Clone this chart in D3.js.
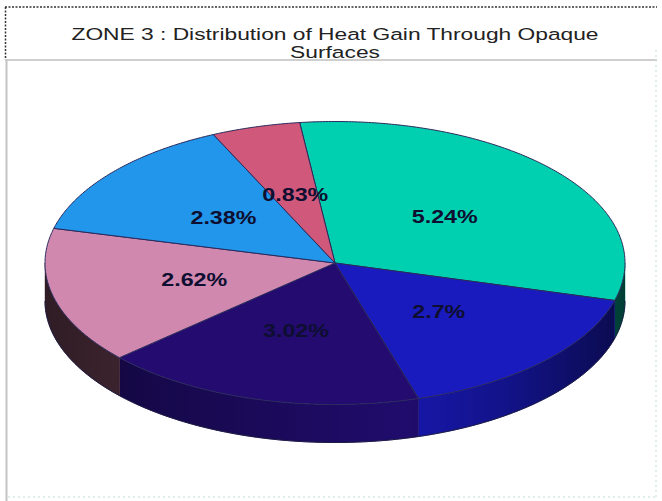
<!DOCTYPE html>
<html>
<head>
<meta charset="utf-8">
<script src="https://cdn.jsdelivr.net/npm/d3@7"></script>
<style>
  html, body { margin: 0; padding: 0; background: #ffffff; }
  svg { display: block; }
</style>
</head>
<body>
<svg id="chart" width="662" height="501"></svg>
<script>
// ---- data ----
const titleLines = ["ZONE 3 : Distribution of Heat Gain Through Opaque", "Surfaces"];
const values = [5.24, 2.7, 3.02, 2.62, 2.38, 0.83];
const labels = ["5.24%", "2.7%", "3.02%", "2.62%", "2.38%", "0.83%"];
const topColors = ["#00D0B0", "#1A1BBE", "#230B70", "#D088AE", "#2196EA", "#D0587A"];
const sideColors = ["#008a74", "#1717aa", "#200c6c", "#5e3848", "#1a6eb0", "#8a3850"];

// ---- layout ----
const W = 662, H = 501;
const cx = 335, cy = 263, rx = 290, ry = 141.5, depth = 38;
const svg = d3.select("#chart");
const defs = svg.append("defs");

// frame
svg.append("line").attr("x1", 5).attr("y1", 7).attr("x2", 657).attr("y2", 7)
  .attr("stroke", "#333").attr("stroke-width", 1.5).attr("stroke-dasharray", "2,1.5");
svg.append("line").attr("x1", 5.5).attr("y1", 7).attr("x2", 5.5).attr("y2", 60)
  .attr("stroke", "#333").attr("stroke-width", 1.5).attr("stroke-dasharray", "2,1.5");
svg.append("line").attr("x1", 5).attr("y1", 60).attr("x2", 657).attr("y2", 60)
  .attr("stroke", "#cfcfcf").attr("stroke-width", 2);
svg.append("line").attr("x1", 6.5).attr("y1", 60).attr("x2", 6.5).attr("y2", 501)
  .attr("stroke", "#c4c4c4").attr("stroke-width", 2);
svg.append("line").attr("x1", 656).attr("y1", 50).attr("x2", 656).attr("y2", 497)
  .attr("stroke", "#d8ece0").attr("stroke-width", 1.5).attr("stroke-dasharray", "2,3");
svg.append("line").attr("x1", 8).attr("y1", 497).attr("x2", 656).attr("y2", 497)
  .attr("stroke", "#d8ece0").attr("stroke-width", 1.5).attr("stroke-dasharray", "2,3");

// title
const titleY = [39.5, 58];
titleLines.forEach((t, i) => {
  svg.append("text")
    .attr("transform", `translate(${cx},${titleY[i]}) scale(1.34,1)`)
    .attr("text-anchor", "middle")
    .attr("font-family", "Liberation Sans, Arial, sans-serif")
    .attr("font-size", 17)
    .attr("fill", "#222")
    .text(t);
});

// pie
const pie = d3.pie().sort(null).value(d => d)
  .startAngle(-7 * Math.PI / 180).endAngle(2 * Math.PI - 7 * Math.PI / 180);
const arcs = pie(values);

const xs = d3.scaleLinear().domain([-1, 1]).range([cx - rx, cx + rx]);
const ys = d3.scaleLinear().domain([-1, 1]).range([cy - ry, cy + ry]);
const pt = (a, f = 1, dy = 0) => [xs(f * Math.sin(a)), ys(-f * Math.cos(a)) + dy];
const line = d3.line();

function arcPoints(a0, a1, dy) {
  const n = Math.max(2, Math.ceil((a1 - a0) / 0.01));
  return d3.range(n + 1).map(i => pt(a0 + (a1 - a0) * i / n, 1, dy));
}

// side shading gradient
const grad = defs.append("linearGradient").attr("id", "shade")
  .attr("gradientUnits", "userSpaceOnUse")
  .attr("x1", cx - rx).attr("x2", cx + rx).attr("y1", 0).attr("y2", 0);
[[0, 0.5], [0.2, 0.3], [0.62, 0.0], [0.8, 0.2], [1, 0.55]].forEach(([o, a]) => {
  grad.append("stop").attr("offset", o).attr("stop-color", "#000").attr("stop-opacity", a);
});

const sides = svg.append("g");
const front0 = Math.PI / 2, front1 = 3 * Math.PI / 2;
arcs.forEach((d, i) => {
  const a0 = Math.max(d.startAngle, front0), a1 = Math.min(d.endAngle, front1);
  if (a1 <= a0) return;
  const topPts = arcPoints(a0, a1, 0);
  const botPts = arcPoints(a0, a1, depth).reverse();
  const pts = topPts.concat(botPts);
  sides.append("path").attr("d", line(pts) + "Z")
    .attr("fill", sideColors[i]).attr("stroke", sideColors[i]).attr("stroke-width", 0.5);
  sides.append("path").attr("d", line(pts) + "Z").attr("fill", "url(#shade)");
});
// outline of side
sides.append("path")
  .attr("d", line(arcPoints(front0, front1, depth)))
  .attr("fill", "none").attr("stroke", "#1a1a40").attr("stroke-width", 1);

const tops = svg.append("g");
arcs.forEach((d, i) => {
  const pts = [[cx, cy]].concat(arcPoints(d.startAngle, d.endAngle, 0));
  tops.append("path").attr("d", line(pts) + "Z")
    .attr("fill", topColors[i])
    .attr("stroke", "#2a2a5c").attr("stroke-width", 1).attr("stroke-linejoin", "round");
});

// labels
arcs.forEach((d, i) => {
  const m = (d.startAngle + d.endAngle) / 2;
  const [lx, ly] = pt(m, 0.5);
  svg.append("text")
    .attr("transform", `translate(${lx},${ly + 6}) scale(1.33,1)`)
    .attr("text-anchor", "middle")
    .attr("font-family", "Liberation Sans, Arial, sans-serif")
    .attr("font-weight", "bold")
    .attr("font-size", 17.5)
    .attr("fill", "#0e0e30")
    .text(labels[i]);
});
</script>
</body>
</html>
